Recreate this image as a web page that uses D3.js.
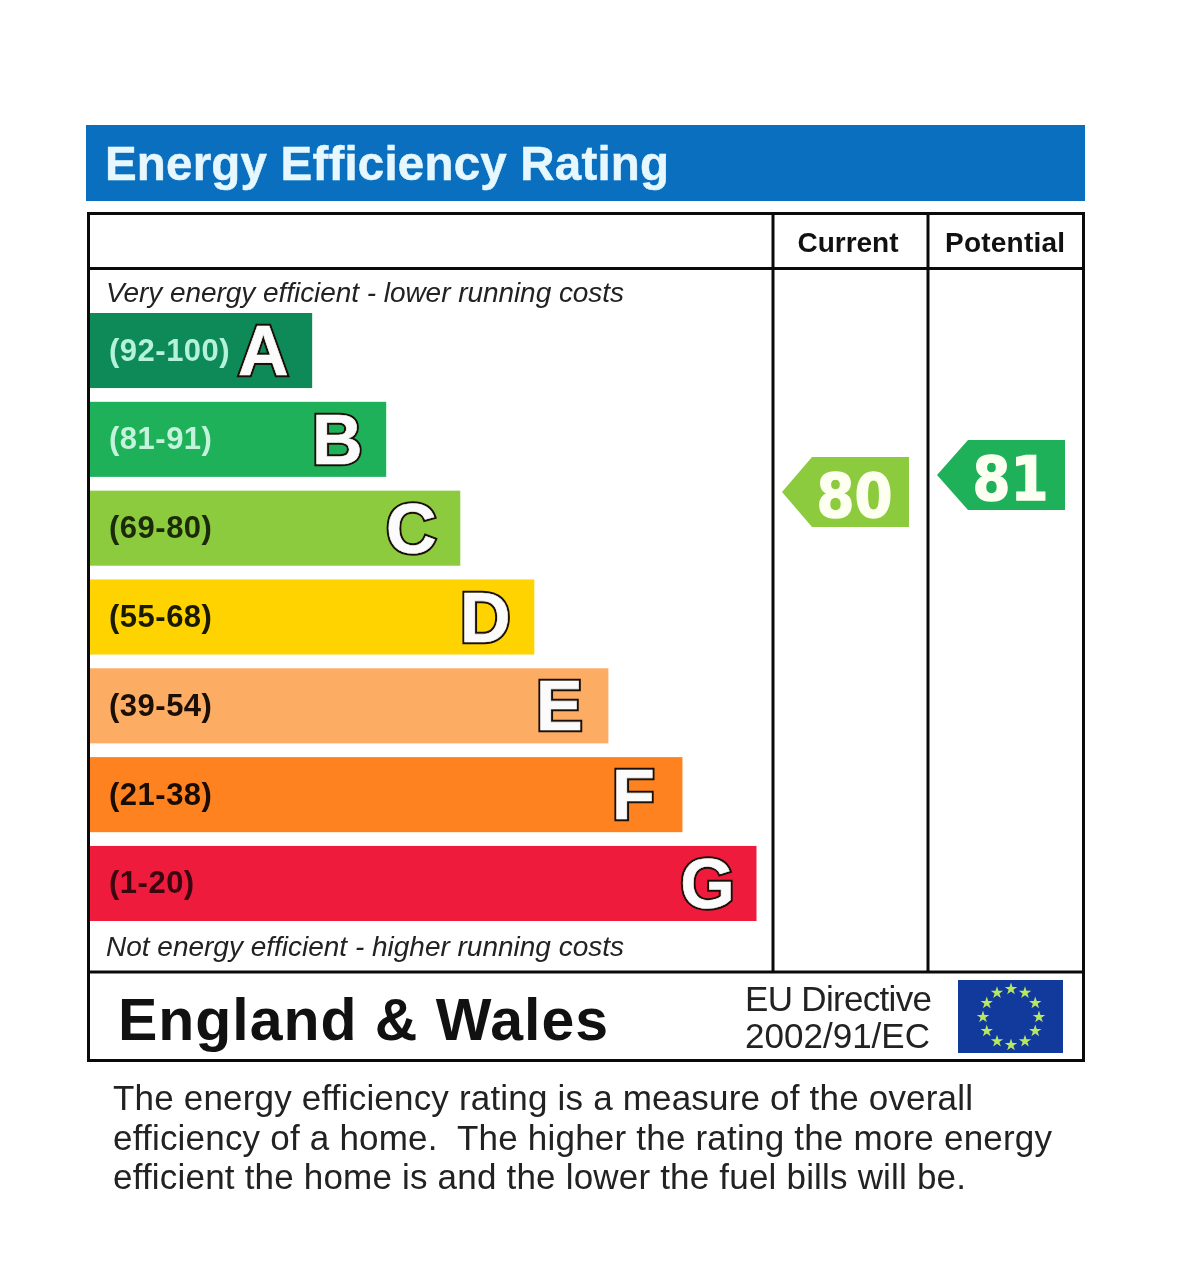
<!DOCTYPE html>
<html><head><meta charset="utf-8">
<script src="https://cdn.jsdelivr.net/npm/d3@7/dist/d3.min.js"></script>
<style>html,body{margin:0;padding:0;background:#fff}svg{display:block;filter:blur(0.45px)}text{font-family:"Liberation Sans",Arial,sans-serif}</style>
</head><body><svg id="c" width="1200" height="1272"></svg>
<script>
const bands = ["A","B","C","D","E","F","G"];
const ranges = ["(92-100)","(81-91)","(69-80)","(55-68)","(39-54)","(21-38)","(1-20)"];
const barLengths = [3,4,5,6,7,8,9];
const bandColors = ["#0e8a58","#1fb159","#8dcb3e","#fed300","#fdac64","#fe8320","#ee1b3d"];
const rangeColors = ["#b4f2dc","#c4f3dc","#1a2a0a","#1a1a00","#1a0f05","#1a0c00","#3a0610"];
const currentRating = 80, potentialRating = 81;
const columns = ["Current","Potential"];
const bodyText = ["The energy efficiency rating is a measure of the overall","efficiency of a home.  The higher the rating the more energy","efficient the home is and the lower the fuel bills will be."];

const svg = d3.select("#c");
const x = d3.scaleLinear().domain([0,9]).range([90,756.5]);
const y = d3.scaleBand().domain(bands).range([313,921]).paddingInner(0.155);
const tagY = d3.scaleLinear().domain([80,81]).range([492,475]);
const colColor = r => bandColors[ranges.findIndex(s=>{const m=s.match(/\d+/g).map(Number);return r>=m[0]&&r<=m[1];})];

// title band
svg.append("rect").attr("x",86).attr("y",125).attr("width",999).attr("height",76).attr("fill","#0a6fbf");
svg.append("text").attr("x",105).attr("y",180).attr("font-size",47.5).attr("font-weight",700).attr("fill","#e6f8fd").attr("stroke","#e6f8fd").attr("stroke-width",0.5).attr("textLength",564).attr("lengthAdjust","spacing").text("Energy Efficiency Rating");

// frame
const line=(x1,y1,x2,y2)=>svg.append("line").attr("x1",x1).attr("y1",y1).attr("x2",x2).attr("y2",y2).attr("stroke","#0a0a0a").attr("stroke-width",3);
svg.append("rect").attr("x",88.5).attr("y",213.5).attr("width",995).attr("height",847).attr("fill","none").attr("stroke","#0a0a0a").attr("stroke-width",3);
line(88,268.5,1084,268.5); line(88,972,1084,972);
line(773,213,773,972); line(928,213,928,972);

// column heads
svg.selectAll(".ch").data(columns).join("text").attr("class","ch")
  .attr("x",(d,i)=>[848,1005][i]).attr("y",252).attr("text-anchor","middle")
  .attr("font-size",28).attr("font-weight",700).attr("fill","#111")
  .attr("textLength",(d,i)=>[101,120][i]).attr("lengthAdjust","spacing").text(d=>d);

// captions
svg.append("text").attr("x",106).attr("y",302).attr("font-size",28).attr("font-style","italic").attr("fill","#222").attr("textLength",518).text("Very energy efficient - lower running costs");
svg.append("text").attr("x",106).attr("y",956).attr("font-size",28).attr("font-style","italic").attr("fill","#222").attr("textLength",518).text("Not energy efficient - higher running costs");

// bars
svg.selectAll(".bar").data(bands).join("rect").attr("class","bar")
  .attr("x",x(0)).attr("y",d=>y(d)).attr("height",y.bandwidth())
  .attr("width",(d,i)=>x(barLengths[i])-x(0)).attr("fill",(d,i)=>bandColors[i]);
svg.selectAll(".rng").data(ranges).join("text").attr("class","rng")
  .attr("x",109).attr("y",(d,i)=>y(bands[i])+y.bandwidth()/2+10)
  .attr("font-size",31).attr("font-weight",700).attr("fill",(d,i)=>rangeColors[i])
  .attr("letter-spacing",0.5).text(d=>d);

// outlined band letters: a dark halo below, a white stroke and fill above
const letterAttrs = s => s
  .attr("x",(d,i)=>x(barLengths[i])-49).attr("y",d=>y(d)+y.bandwidth()/2+24.5)
  .attr("text-anchor","middle").attr("font-size",70).attr("font-weight",700)
  .attr("stroke-linejoin","miter").text(d=>d);
svg.selectAll(".leto").data(bands).join("text").attr("class","leto").call(letterAttrs)
  .attr("fill","#1a1008").attr("stroke","#1a1008").attr("stroke-width",4.6);
svg.selectAll(".leti").data(bands).join("text").attr("class","leti").call(letterAttrs)
  .attr("fill","#fbfbfb").attr("stroke","#fbfbfb").attr("stroke-width",0.6);

// rating tags
const tags=[{r:currentRating,tip:782,l:812,right:909},{r:potentialRating,tip:937,l:968,right:1065}];
const lineGen=d3.line();
svg.selectAll(".tag").data(tags).join("path").attr("class","tag")
  .attr("fill",d=>colColor(d.r))
  .attr("d",d=>{const c=tagY(d.r);return lineGen([[d.tip,c],[d.l,c-35],[d.right,c-35],[d.right,c+35],[d.l,c+35]])+"Z";});
svg.selectAll(".tagt").data(tags).join("text").attr("class","tagt")
  .attr("x",d=>(d.l+d.right)/2-6).attr("y",d=>tagY(d.r)+25)
  .attr("text-anchor","middle").attr("font-size",60).attr("font-weight",700)
  .attr("textLength",76).attr("lengthAdjust","spacingAndGlyphs")
  .style("font-family","DejaVu Sans").attr("fill","#fdfff0").attr("stroke","#fdfff0").attr("stroke-width",1.4).text(d=>d.r);

// footer
svg.append("text").attr("x",118).attr("y",1040).attr("font-size",59).attr("font-weight",700).attr("fill","#111").attr("textLength",490).attr("lengthAdjust","spacing").text("England & Wales");
svg.append("text").attr("x",745).attr("y",1011).attr("font-size",35).attr("fill","#222").attr("textLength",187).text("EU Directive");
svg.append("text").attr("x",745).attr("y",1048).attr("font-size",35).attr("fill","#222").attr("textLength",185).text("2002/91/EC");

// flag
svg.append("rect").attr("x",958).attr("y",980).attr("width",105).attr("height",73).attr("fill","#113a9c");
const star=d3.symbol().type(d3.symbolStar).size(48);
svg.selectAll(".star").data(d3.range(12)).join("path").attr("class","star")
  .attr("d",star).attr("fill","#b8e860")
  .attr("transform",d=>{const a=d/12*2*Math.PI;return `translate(${1011+28*Math.sin(a)},${1017-28*Math.cos(a)})`;});

// body text
svg.selectAll(".body").data(bodyText).join("text").attr("class","body")
  .attr("x",113).attr("y",(d,i)=>1110+i*39.5).attr("font-size",35).attr("fill","#222")
  .attr("textLength",(d,i)=>[860,939,853][i]).style("white-space","pre").text(d=>d);
</script></body></html>
